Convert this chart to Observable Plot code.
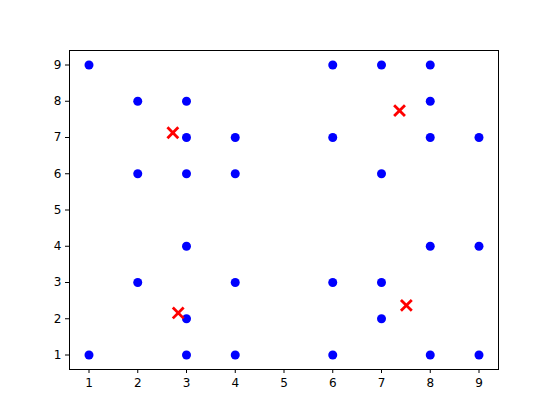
<!DOCTYPE html>
<html><head><meta charset="utf-8">
<script src="https://cdn.jsdelivr.net/npm/d3@7"></script>
<script src="https://cdn.jsdelivr.net/npm/@observablehq/plot@0.6"></script>
<style>body{margin:0;background:#fff}</style>
</head><body><div id="chart"></div>
<script>
const pointX = [1,2,3,3,4,2,3,4,3,2,4,3,1,3,4,6,7,8,8,6,8,9,7,8,9,6,7,7,6,8,9];
const pointY = [9,8,8,7,7,6,6,6,4,3,3,2,1,1,1,9,9,9,8,7,7,7,6,4,4,3,3,2,1,1,1];
const centerX = [2.72, 7.37, 2.83, 7.51];
const centerY = [7.13, 7.74, 2.16, 2.37];
const ticks = [1,2,3,4,5,6,7,8,9];

const points = pointX.map((x,i)=>({x, y: pointY[i]}));
const centers = centerX.map((x,i)=>({x, y: centerY[i]}));

const chart = Plot.plot({
  width: 554, height: 415,
  marginLeft: 69, marginRight: 56, marginTop: 50, marginBottom: 46,
  style: {fontFamily: "DejaVu Sans", fontSize: "12px", color: "#000", background: "#fff"},
  x: {domain: [0.6, 9.4], ticks: ticks, tickSize: 4, tickPadding: 5, label: null},
  y: {domain: [0.6, 9.4], ticks: ticks, tickSize: 4, tickPadding: 4, label: null},
  marks: [
    Plot.dot(points, {x: "x", y: "y", r: 4.5, fill: "#0000ff", stroke: "none"}),
    Plot.dot(centers, {x: "x", y: "y", r: 5, symbol: "times", stroke: "#ff0000", strokeWidth: 2.8}),
    Plot.frame({stroke: "#000", strokeWidth: 1})
  ]
});
chart.querySelectorAll("text").forEach(t => t.style.fontSize = "12px");
document.getElementById("chart").appendChild(chart);
</script></body></html>
